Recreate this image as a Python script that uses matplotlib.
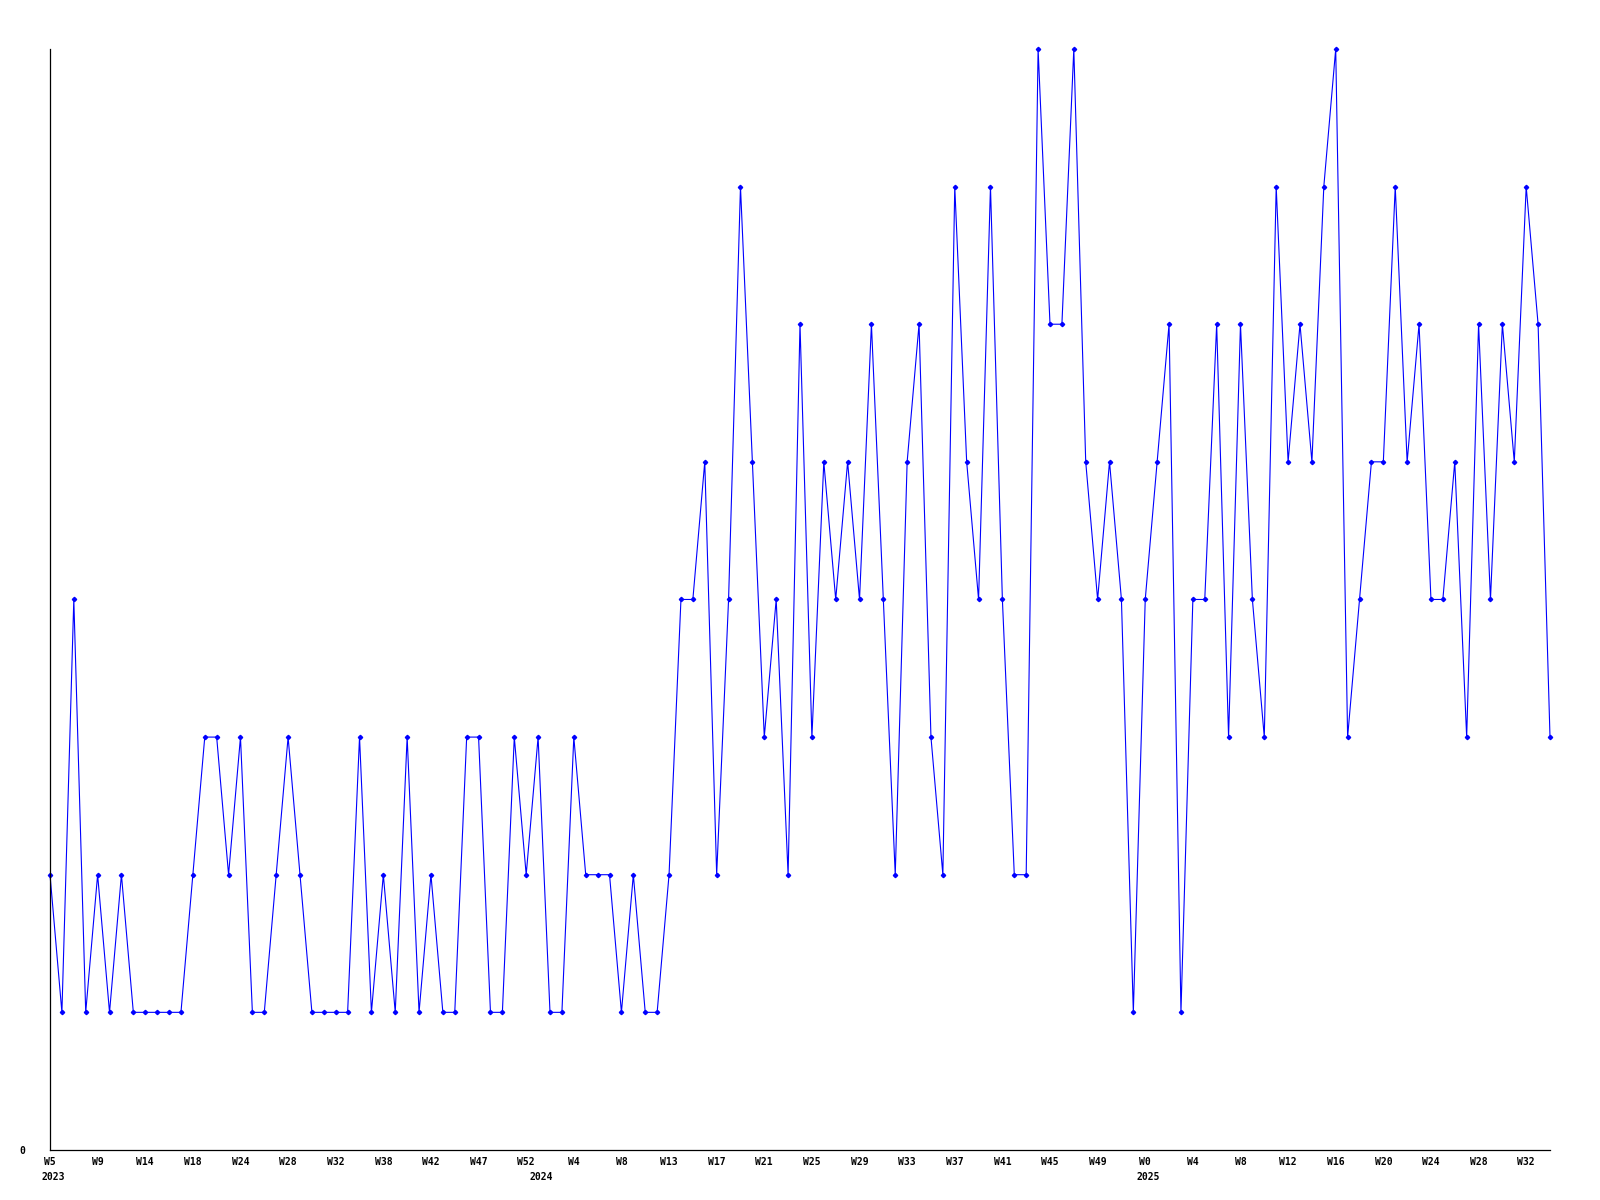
import matplotlib
matplotlib.use("Agg")
import matplotlib.pyplot as plt
import matplotlib.transforms as mtransforms

# weekly values, 2023 W5 .. 2025 W33
values = [2, 1, 4, 1, 2, 1, 2, 1, 1, 1, 1, 1, 2, 3, 3, 2,
          3, 1, 1, 2, 3, 2, 1, 1, 1, 1, 3, 1, 2, 1, 3, 1,
          2, 1, 1, 3, 3, 1, 1, 3, 2, 3, 1, 1, 3, 2, 2, 2,
          1, 2, 1, 1, 2, 4, 4, 5, 2, 4, 7, 5, 3, 4, 2, 6,
          3, 5, 4, 5, 4, 6, 4, 2, 5, 6, 3, 2, 7, 5, 4, 7,
          4, 2, 2, 8, 6, 6, 8, 5, 4, 5, 4, 1, 4, 5, 6, 1,
          4, 4, 6, 3, 6, 4, 3, 7, 5, 6, 5, 7, 8, 3, 4, 5,
          5, 7, 5, 6, 4, 4, 5, 3, 6, 4, 6, 5, 7, 6, 3]

week_labels = ["W5", "W9", "W14", "W18", "W24", "W28", "W32", "W38",
               "W42", "W47", "W52", "W4", "W8", "W13", "W17", "W21",
               "W25", "W29", "W33", "W37", "W41", "W45", "W49", "W0",
               "W4", "W8", "W12", "W16", "W20", "W24", "W28", "W32"]
year_labels = ["2023", "2024", "2025"]
year_index = [0, 41, 92]

font = dict(family="DejaVu Sans Mono", weight="bold", size=7)

fig = plt.figure(figsize=(16, 12), dpi=100)
ax = fig.add_axes([0.03125, 0.0417, 0.9375, 0.9175])

x = list(range(len(values)))
ax.plot(x, values, color="#0000ff", linewidth=0.8, marker="D",
        markersize=2.2, clip_on=False)

ax.set_xlim(0, len(values) - 1)
ax.set_ylim(0, 8)

for s in ["top", "right"]:
    ax.spines[s].set_visible(False)
for s in ["left", "bottom"]:
    ax.spines[s].set_linewidth(0.9)
    ax.spines[s].set_color("black")

ax.set_xticks(range(0, len(values), 4))
ax.set_xticklabels(week_labels, fontdict=font)
ax.set_yticks([0])
ax.set_yticklabels(["0"], fontdict=font)
ax.tick_params(axis="x", length=0, pad=5)
ax.tick_params(axis="y", length=0, pad=18)

# year labels under the week labels
trans = mtransforms.blended_transform_factory(ax.transData, ax.transAxes)
offset = mtransforms.ScaledTranslation(3 / 100, -27 / 100, fig.dpi_scale_trans)
for lab, i in zip(year_labels, year_index):
    ax.text(i, 0, lab, transform=trans + offset, ha="center", va="center", **font)

fig.savefig("out.png", dpi=100)
